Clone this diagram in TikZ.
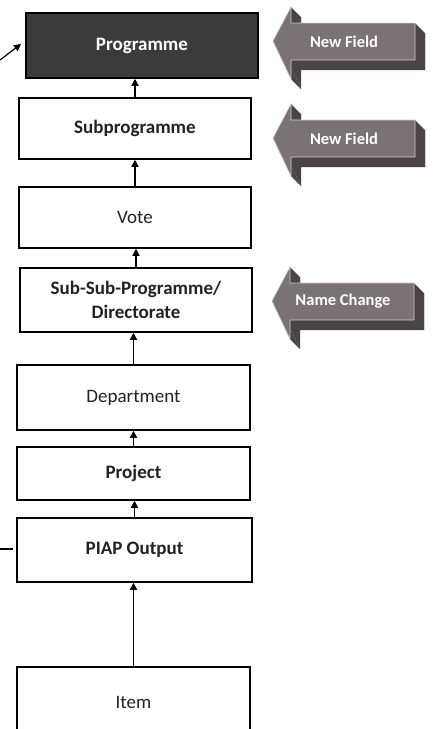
\documentclass[tikz,border=0pt]{standalone}
\usepackage{fontspec}
\setmainfont{Carlito}
\usetikzlibrary{arrows.meta}
\definecolor{progfill}{HTML}{3B3B3B}
\definecolor{arrowfront}{HTML}{7A7275}
\definecolor{arrowside}{HTML}{4A4447}
\definecolor{boxtext}{HTML}{222222}

\tikzset{
  level/.style={draw=black, line width=1.5pt, fill=white, text=boxtext,
    font=\bfseries\fontsize{19}{24}\selectfont, align=center, inner sep=0pt},
  plainlevel/.style={level, font=\fontsize{19}{24}\selectfont},
  link/.style={line width=1.4pt, -{Triangle[width=7pt,length=7pt]}},
  tag/.style={text=white, font=\bfseries\fontsize{16.5}{19}\selectfont},
  % extruded block arrow pointing left; origin = arrow tip
  pics/leftblock/.style={code={
    \fill[arrowside] (10,10) -- (28,-24) -- (28,-8) -- (152,-8) -- (152,29)
      -- (28,29) -- (28,48) -- cycle;
    \fill[arrowside] (142,-18) -- (152,-8) -- (152,29) -- (142,19) -- cycle;
    \fill[arrowside] (18,-34) -- (28,-24) -- (28,-8) -- (18,-18) -- cycle;
    \fill[arrowside] (0,0) -- (10,10) -- (28,48) -- (18,38) -- cycle;
    \draw[black!20, line width=0.6pt, fill=arrowfront] (0,0) -- (18,-34)
      -- (18,-18) -- (142,-18) -- (142,19) -- (18,19) -- (18,38) -- cycle;
    \node[tag] (-label) at (71,0.5) {#1};
  }},
}

\begin{document}
\begin{tikzpicture}[x=1pt, y=-1pt]
\useasboundingbox (0,0) rectangle (433,729);
\clip (0,0) rectangle (433,729);

% hierarchy boxes
\node[level, fill=progfill, text=white, minimum width=232pt, minimum height=65pt]
  (prog) at (142,45.5) {Programme};
\node[level, minimum width=232pt, minimum height=61pt] (sub) at (135,128.5) {Subprogramme};
\node[plainlevel, minimum width=232pt, minimum height=61pt] (vote) at (135,217.5) {Vote};
\node[level, minimum width=232pt, minimum height=64pt] (ssp) at (136,300)
  {Sub-Sub-Programme/\\Directorate};
\node[plainlevel, minimum width=233pt, minimum height=65pt] (dept) at (133.5,397.5) {Department};
\node[level, minimum width=233pt, minimum height=53pt] (proj) at (133.5,473.5) {Project};
\node[level, minimum width=235pt, minimum height=64pt] (piap) at (134.5,550) {PIAP Output};
\node[plainlevel, minimum width=233pt, minimum height=70pt] (item) at (133.5,702) {Item};

% upward links
\draw[link] (sub.north) -- (sub.north |- prog.south);
\draw[link] (vote.north) -- (vote.north |- sub.south);
\draw[link] (ssp.north) -- (ssp.north |- vote.south);
\draw[link] (dept.north) -- (dept.north |- ssp.south);
\draw[link] (proj.north) -- (proj.north |- dept.south);
\draw[link] (piap.north) -- (piap.north |- proj.south);
\draw[link] (item.north) -- (item.north |- piap.south);

% incoming connectors from the left
\coordinate (inA) at (0,60);
\coordinate (tipA) at (21,44);
\draw[link, line width=1.2pt] (inA) -- (tipA);
\coordinate (inB) at (0,549);
\draw[line width=1.2pt, shorten >=3pt] (inB) -- (inB -| piap.west);

% change markers
\pic (nfa) at (273,41) {leftblock=New Field};
\pic (nfb) at (273,138) {leftblock=New Field};
\pic (nc) at (272,301) {leftblock=Name Change};
\end{tikzpicture}
\end{document}
